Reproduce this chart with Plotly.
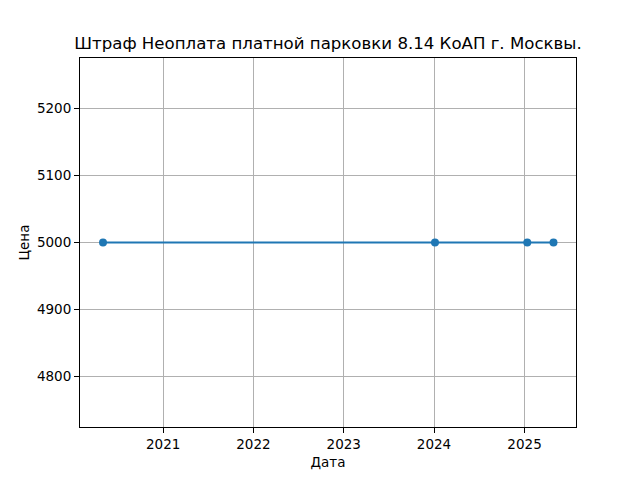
import plotly.graph_objects as go

dates = ["2020-05-03", "2024-01-05", "2025-01-12", "2025-04-28"]
prices = [5000, 5000, 5000, 5000]
year_ticks = ["2021-01-01", "2022-01-01", "2023-01-01", "2024-01-01", "2025-01-01"]
year_labels = ["2021", "2022", "2023", "2024", "2025"]
y_ticks = [4800, 4900, 5000, 5100, 5200]

title = "Штраф Неоплата платной парковки 8.14 КоАП г. Москвы."

fig = go.Figure()
fig.add_trace(go.Scatter(
    x=dates, y=prices, mode="lines+markers",
    line=dict(color="#1f77b4", width=2),
    marker=dict(color="#1f77b4", size=8),
    showlegend=False,
))

axis_common = dict(
    showline=True, linecolor="black", linewidth=1, mirror=True,
    ticks="outside", ticklen=5, tickcolor="black", tickwidth=1,
    showgrid=True, gridcolor="#b0b0b0", gridwidth=1,
    zeroline=False,
    tickfont=dict(family="DejaVu Sans", size=13.5, color="black"),
)

fig.update_layout(
    width=640, height=480,
    margin=dict(l=72, r=72, t=50, b=61),
    paper_bgcolor="white", plot_bgcolor="white",
    font=dict(family="DejaVu Sans", color="black"),
    title=dict(text=title, x=320/640, xanchor="center",
               y=1 - 35/480, yanchor="middle", yref="container",
               font=dict(family="DejaVu Sans", size=16.6, color="black")),
    xaxis=dict(axis_common, type="date",
               range=["2020-01-31", "2025-07-28"],
               tickvals=year_ticks, ticktext=year_labels,
               title=dict(text="Дата", font=dict(size=13.5), standoff=6)),
    yaxis=dict(axis_common, range=[4725, 5275],
               tickvals=y_ticks,
               title=dict(text="Цена", font=dict(size=13.5), standoff=4)),
)

fig.write_html("out.html")
